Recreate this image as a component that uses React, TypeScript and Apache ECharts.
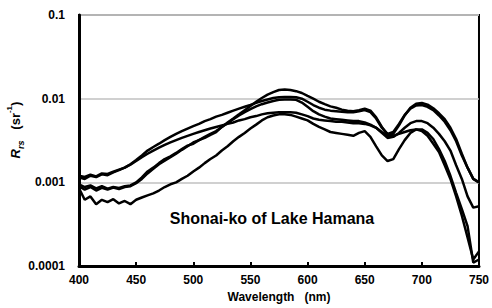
import React, { useEffect, useRef } from "react";
import * as echarts from "echarts";

const wavelengths = [
  400, 405, 410, 415, 420, 425, 430, 435, 440, 445,
  450, 455, 460, 465, 470, 475, 480, 485, 490, 495,
  500, 505, 510, 515, 520, 525, 530, 535, 540, 545,
  550, 555, 560, 565, 570, 575, 580, 585, 590, 595,
  600, 605, 610, 615, 620, 625, 630, 635, 640, 645,
  650, 655, 660, 665, 670, 675, 680, 685, 690, 695,
  700, 705, 710, 715, 720, 725, 730, 735, 740, 745, 750,
];

const rrs1 = [
  0.00095, 0.00088, 0.00092, 0.00085, 0.0009, 0.00084, 0.00088, 0.00086, 0.0009, 0.00092,
  0.001, 0.00115, 0.00135, 0.0015, 0.0017, 0.0019, 0.00205, 0.00225, 0.0025, 0.00275,
  0.0029, 0.0032, 0.0034, 0.0037, 0.004, 0.0046, 0.0052, 0.0058, 0.0065, 0.0073,
  0.0082, 0.0092, 0.0102, 0.0112, 0.012, 0.0127, 0.0129, 0.0127, 0.0123, 0.0117,
  0.0108, 0.01, 0.0092, 0.0086, 0.0081, 0.0078, 0.0074, 0.0072, 0.0071, 0.0073,
  0.0076, 0.0072, 0.006, 0.0046, 0.0037, 0.0038, 0.0048, 0.0063, 0.0078, 0.0087,
  0.0089, 0.0085, 0.0077, 0.0067, 0.0057, 0.0045, 0.0033, 0.0022, 0.0015, 0.0011, 0.001,
];

const rrs2 = [
  0.00115, 0.0011, 0.0012, 0.00116, 0.00125, 0.00122, 0.00132, 0.0014, 0.0015, 0.00165,
  0.00185, 0.0021, 0.0024, 0.00265, 0.0029, 0.0032, 0.0035, 0.0038, 0.0041, 0.0044,
  0.0047, 0.005, 0.0054, 0.0057, 0.0061, 0.0064, 0.0068, 0.0072, 0.0076, 0.008,
  0.0084, 0.0089, 0.0094, 0.0098, 0.0102, 0.0104, 0.0105, 0.0105, 0.0104, 0.01,
  0.0092, 0.0084, 0.0078, 0.0074, 0.0072, 0.0071, 0.007, 0.0069, 0.0069, 0.0071,
  0.0073, 0.0069, 0.0058, 0.0045, 0.0038, 0.004, 0.005, 0.0064, 0.0076, 0.0083,
  0.0084, 0.008, 0.0073, 0.0063, 0.0053, 0.0042, 0.0031, 0.0021, 0.0015, 0.0011, 0.001,
];

const rrs3 = [
  0.0009, 0.00082, 0.00088, 0.0008, 0.00086, 0.00082, 0.00087, 0.00083, 0.00088, 0.0009,
  0.00098, 0.0011, 0.00128, 0.00145, 0.00165, 0.00182, 0.002, 0.0022, 0.00245, 0.0027,
  0.003, 0.0032, 0.0035, 0.0038, 0.0041, 0.0046, 0.0051, 0.0057, 0.0063, 0.0069,
  0.0075, 0.0081, 0.0086, 0.009, 0.0094, 0.0097, 0.0098, 0.0098, 0.0097, 0.009,
  0.008, 0.0071, 0.0065, 0.0061, 0.0058, 0.0057, 0.0056, 0.0055, 0.0054, 0.0054,
  0.0052, 0.0049, 0.0045, 0.0039, 0.0034, 0.0035, 0.0039, 0.0045, 0.0051, 0.0054,
  0.0054, 0.0051, 0.0045, 0.0038, 0.0031, 0.0024, 0.0016, 0.0011, 0.00068, 0.0005, 0.00052,
];

const rrs4 = [
  0.0012, 0.00116, 0.00124, 0.00118, 0.00128, 0.00126, 0.00134, 0.00142, 0.0015, 0.00163,
  0.0018, 0.002, 0.0022, 0.0024, 0.0026, 0.0028, 0.003, 0.0032, 0.0034, 0.0036,
  0.0038, 0.004, 0.0042, 0.0044, 0.0046, 0.0048, 0.005, 0.0052, 0.0055, 0.0057,
  0.006, 0.0062, 0.0065, 0.0067, 0.0068, 0.0069, 0.0069, 0.0069, 0.0068, 0.0065,
  0.0062, 0.0058, 0.0056, 0.0055, 0.0054, 0.0053, 0.0053, 0.0052, 0.0051, 0.0051,
  0.005, 0.0048, 0.0045, 0.004, 0.0036, 0.0036, 0.0038, 0.004, 0.0042, 0.0043,
  0.0041, 0.0036, 0.0029, 0.0023, 0.0016, 0.0011, 0.00068, 0.0004, 0.00022, 0.00012, 0.00015,
];

const rrs5 = [
  0.00085, 0.00062, 0.00068, 0.00055, 0.00062, 0.00058, 0.00063, 0.00056, 0.0006, 0.00055,
  0.00062, 0.00066, 0.0007, 0.00074, 0.0008, 0.00088, 0.00095, 0.001, 0.0011, 0.0012,
  0.00135, 0.0015, 0.0017, 0.0019, 0.0021, 0.0024, 0.0027, 0.0031, 0.0035, 0.0039,
  0.0044, 0.0049, 0.0055, 0.006, 0.0063, 0.0065, 0.0065, 0.0064, 0.0061, 0.0058,
  0.0055, 0.005, 0.0046, 0.0043, 0.004, 0.0039, 0.0038, 0.0037, 0.0036, 0.0039,
  0.0041, 0.0035, 0.0027, 0.0021, 0.0018, 0.0019, 0.0025, 0.0032, 0.0039, 0.0043,
  0.0043, 0.0039, 0.0033, 0.0025, 0.0018, 0.0012, 0.00075, 0.00048, 0.0003, 0.00011, 0.00012,
];

const seriesList = [rrs1, rrs2, rrs3, rrs4, rrs5];
const yTickLabels = ["0.0001", "0.001", "0.01", "0.1"];
const chartTitle = "Shonai-ko of Lake Hamana";
const xAxisTitle = "Wavelength   (nm)";

const FONT = "'Liberation Sans', Arial, sans-serif";

export default function App() {
  const ref = useRef<HTMLDivElement>(null);
  useEffect(() => {
    if (!ref.current) return;
    const chart = echarts.init(ref.current, undefined, { renderer: "svg" });
    chart.setOption({
      animation: false,
      backgroundColor: "#fff",
      grid: {
        left: 79,
        top: 15,
        width: 403,
        height: 254,
        show: true,
        borderColor: "#000",
        borderWidth: 2,
        backgroundColor: "transparent",
      },
      xAxis: {
        type: "value",
        min: 400,
        max: 750,
        interval: 50,
        name: xAxisTitle,
        nameLocation: "middle",
        nameGap: 23,
        nameTextStyle: { fontFamily: FONT, fontWeight: "bold", fontSize: 12, color: "#000" },
        axisLine: { show: true, onZero: false, lineStyle: { color: "#000", width: 3 } },
        axisTick: { show: true, inside: true, length: 4, lineStyle: { color: "#000", width: 2 } },
        axisLabel: { margin: 8, fontFamily: FONT, fontWeight: "bold", fontSize: 12, color: "#000" },
        splitLine: { show: false },
      },
      yAxis: {
        type: "log",
        logBase: 10,
        min: 0.0001,
        max: 0.1,
        axisLine: { show: true, lineStyle: { color: "#000", width: 3 } },
        axisTick: { show: false },
        axisLabel: {
          margin: 14,
          fontFamily: FONT,
          fontWeight: "bold",
          fontSize: 12,
          color: "#000",
          formatter: (v: number) => {
            const e = Math.round(Math.log10(v));
            return yTickLabels[e + 4] ?? "";
          },
        },
        splitLine: { show: true, lineStyle: { color: "#c0c0c0", width: 1.5 } },
      },
      graphic: [
        {
          type: "text",
          x: 272,
          y: 218,
          style: {
            text: chartTitle,
            fontFamily: FONT,
            fontWeight: "bold",
            fontSize: 16,
            fill: "#000",
            align: "center",
            verticalAlign: "middle",
          },
        },
        {
          type: "text",
          x: 15,
          y: 130,
          rotation: Math.PI / 2,
          style: {
            text: "{r|R}{s|rs}   {n|(sr}{p|-1}{n|)}",
            align: "center",
            verticalAlign: "middle",
            rich: {
              r: { fontFamily: FONT, fontWeight: "bold", fontStyle: "italic", fontSize: 13, lineHeight: 20, verticalAlign: "middle", fill: "#000" },
              s: { fontFamily: FONT, fontWeight: "bold", fontStyle: "italic", fontSize: 9, lineHeight: 20, verticalAlign: "bottom", fill: "#000" },
              n: { fontFamily: FONT, fontWeight: "bold", fontSize: 13, lineHeight: 20, verticalAlign: "middle", fill: "#000" },
              p: { fontFamily: FONT, fontWeight: "bold", fontSize: 8, lineHeight: 20, verticalAlign: "top", fill: "#000" },
            },
            fontFamily: FONT,
            fontWeight: "bold",
            fontSize: 13,
            fill: "#000",
          },
        },
      ],
      series: seriesList.map((vals, i) => ({
        name: "s" + (i + 1),
        type: "line",
        data: wavelengths.map((w, j) => [w, vals[j]]),
        showSymbol: false,
        symbol: "none",
        lineStyle: { color: "#000", width: 2.5 },
        clip: true,
      })),
    });
    return () => chart.dispose();
  }, []);
  return (
    <div
      ref={ref}
      style={{ position: "fixed", left: 0, top: 0, width: 492, height: 308 }}
    />
  );
}
